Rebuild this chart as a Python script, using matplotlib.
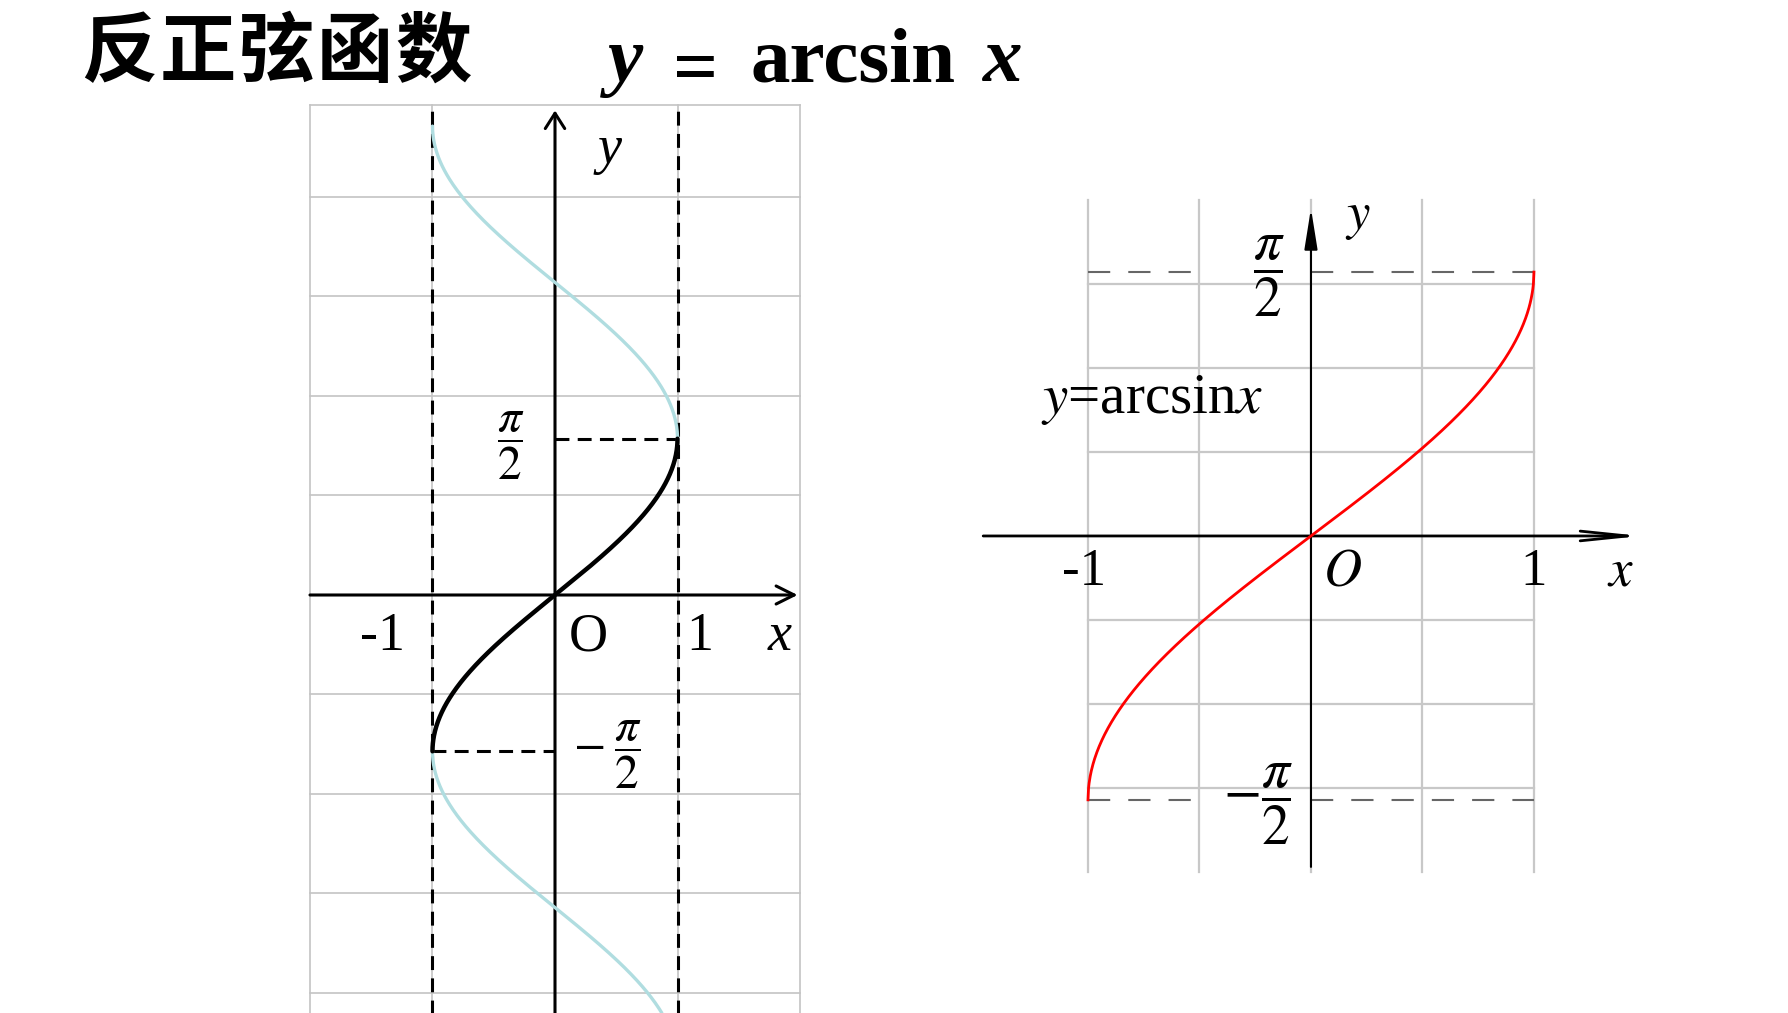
import numpy as np
import matplotlib
matplotlib.use('Agg')
import matplotlib.pyplot as plt

plt.rcParams['mathtext.fontset'] = 'stix'
plt.rcParams['lines.scale_dashes'] = False
plt.rcParams['font.family'] = ['Liberation Serif', 'DejaVu Serif']

# ---------------- data ----------------
title_cn = "反正弦函数"
title_parts = ["y", "=", "arcsin", "x"]

# left panel: x = sin(y), highlighted branch y in [-pi/2, pi/2]
sine_y_span = (-4.2, 3 * np.pi / 2)
branch_span = (-np.pi / 2, np.pi / 2)
left_grid_x = [-2, -1, 1, 2]
left_grid_y = [-4, -3, -2, -1, 1, 2, 3, 4, 4.92]
left_tick_labels = ["-1", "O", "1"]
left_tick_x = [-1.41, 0.27, 1.18]

# right panel: y = arcsin x
arcsin_span = (-1, 1)
right_grid_x = [-1, -0.5, 0, 0.5, 1]
right_grid_y = [-1.5, -1, -0.5, 0.5, 1, 1.5]
right_tick_labels = ["-1", "$O$", "1"]
right_tick_x = [-1.02, 0.14, 1.0]

# ---------------- figure ----------------
W, H, DPI = 1788, 1013, 100
fig = plt.figure(figsize=(W / DPI, H / DPI), dpi=DPI)
fig.patch.set_facecolor('white')


def add_axes_px(x0, y0, x1, y1):
    return fig.add_axes([x0 / W, 1 - y1 / H, (x1 - x0) / W, (y1 - y0) / H])


# ---------- left panel ----------
axL = add_axes_px(290, 95, 820, 1013)
axL.set_xlim(-2.163, 2.163)
axL.set_ylim(-4.201, 5.025)
axL.axis('off')

grid_c = '#c4c4c4'
for gx in left_grid_x:
    axL.plot([gx, gx], [-4.3, 4.92], color=grid_c, lw=1.2, zorder=1)
for gy in left_grid_y:
    axL.plot([-2, 2], [gy, gy], color=grid_c, lw=1.2, zorder=1)

dash_k = (0, (10, 6))
for gx in (-1, 1):
    axL.plot([gx, gx], [-4.3, 4.89], color='black', lw=2.2, ls=dash_k, zorder=2)
axL.plot([0, 1], [np.pi / 2, np.pi / 2], color='black', lw=2.2, ls=dash_k, zorder=2)
axL.plot([-1, 0], [-np.pi / 2, -np.pi / 2], color='black', lw=2.2, ls=dash_k, zorder=2)

# axes with arrows
axL.annotate('', xy=(1.98, 0), xytext=(-2.0, 0),
             arrowprops=dict(arrowstyle='->,head_length=1.3,head_width=0.65',
                             lw=2.2, color='black', shrinkA=0, shrinkB=0,
                             mutation_scale=10), zorder=3)
axL.annotate('', xy=(0, 4.87), xytext=(0, -4.3),
             arrowprops=dict(arrowstyle='->,head_length=1.1,head_width=0.7',
                             lw=2.2, color='black', shrinkA=0, shrinkB=0,
                             mutation_scale=10), zorder=3)

t = np.linspace(*sine_y_span, 800)
axL.plot(np.sin(t), t, color='#b0dde0', lw=2.4, zorder=4, solid_capstyle='round')
tb = np.linspace(*branch_span, 400)
axL.plot(np.sin(tb), tb, color='black', lw=3.2, zorder=5, solid_capstyle='round')

for lab, lx in zip(left_tick_labels, left_tick_x):
    axL.text(lx, -0.553, lab, fontsize=39, ha='center', va='baseline', zorder=6)
axL.text(1.837, -0.553, 'x', fontsize=39, style='italic', ha='center', va='baseline')
axL.text(0.449, 4.34, 'y', fontsize=39, style='italic', ha='center', va='baseline')
axL.text(-0.359, 1.50, r'$\dfrac{\pi}{2}$', fontsize=34, ha='center', va='center')
axL.text(0.43, -1.60, r'$-\;\dfrac{\pi}{2}$', fontsize=34, ha='center', va='center')

# ---------- right panel ----------
axR = add_axes_px(960, 180, 1680, 900)
axR.set_xlim(-1.574, 1.655)
axR.set_ylim(-2.167, 2.119)
axR.axis('off')

grid_r = '#c8c8c8'
for gx in right_grid_x:
    axR.plot([gx, gx], [-2.0, 2.0], color=grid_r, lw=1.6, zorder=1)
for gy in right_grid_y:
    axR.plot([-1, 1], [gy, gy], color=grid_r, lw=1.6, zorder=1)

dash_g = (0, (16, 13))
for sgn in (1, -1):
    axR.plot([-1, -0.53], [sgn * np.pi / 2] * 2, color='#666666', lw=1.5, ls=dash_g, zorder=2)
    axR.plot([0, 1], [sgn * np.pi / 2] * 2, color='#666666', lw=1.5, ls=dash_g, zorder=2)

axR.annotate('', xy=(1.48, 0), xytext=(-1.47, 0),
             arrowprops=dict(arrowstyle='->,head_length=3.4,head_width=0.35',
                             lw=2.0, color='black', shrinkA=0, shrinkB=0,
                             mutation_scale=10), zorder=3)
axR.annotate('', xy=(0, 1.95), xytext=(0, -1.97),
             arrowprops=dict(arrowstyle='-|>,head_length=2.5,head_width=0.4',
                             lw=1.5, color='black', shrinkA=0, shrinkB=0,
                             mutation_scale=10), zorder=3)

xa = np.linspace(*arcsin_span, 800)
axR.plot(xa, np.arcsin(xa), color='#ff0000', lw=2.0, zorder=4)

for lab, lx in zip(right_tick_labels, right_tick_x):
    axR.text(lx, -0.292, lab, fontsize=38, ha='center', va='baseline', zorder=6)
axR.text(1.39, -0.292, '$x$', fontsize=38, ha='center', va='baseline')
axR.text(0.21, 1.827, '$y$', fontsize=38, ha='center', va='baseline')
axR.text(-0.188, 1.545, r'$\dfrac{\pi}{2}$', fontsize=40, ha='center', va='center')
axR.text(-0.24, -1.597, r'$-\dfrac{\pi}{2}$', fontsize=40, ha='center', va='center')
axR.text(-0.713, 0.732, r'$y$=arcsin$x$', fontsize=41, ha='center', va='baseline')

# ---------- title ----------
for i, ch in enumerate(title_cn):
    cx = 80 + 78.6 * (i + 0.5)
    fig.text(cx / W, 1 - 76 / H, ch, fontsize=55, family=['Noto Sans CJK SC'],
             weight='bold', ha='center', va='baseline')

title_x = [625, 696, 853, 1003]
title_base = [81, 92, 81, 81]
title_style = ['italic', 'normal', 'normal', 'italic']
for part, px, pb, st in zip(title_parts, title_x, title_base, title_style):
    fig.text(px / W, 1 - pb / H, part, fontsize=57, weight='bold', style=st,
             ha='center', va='baseline')

fig.savefig('out.png', dpi=DPI, facecolor='white')
